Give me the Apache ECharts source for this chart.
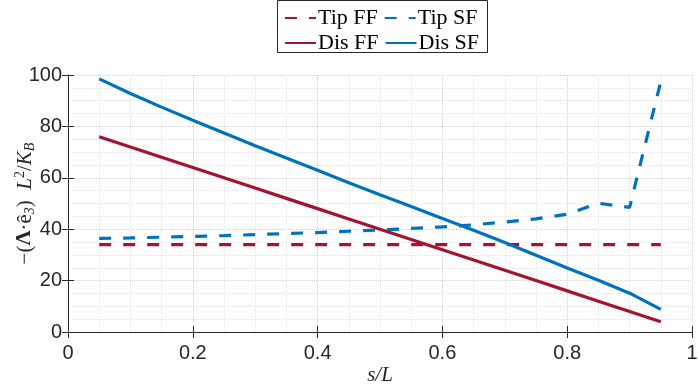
<!DOCTYPE html>
<html>
<head>
<meta charset="utf-8">
<script src="https://cdn.jsdelivr.net/npm/echarts@6/dist/echarts.min.js"></script>
<style>
  html, body { margin: 0; padding: 0; background: #fff; }
  #chart { width: 698px; height: 390px; }
</style>
</head>
<body>
<div id="chart"></div>
<script>
// s/L positions
var sValues = [0.05, 0.1, 0.15, 0.2, 0.25, 0.3, 0.35, 0.4, 0.45, 0.5,
               0.55, 0.6, 0.65, 0.7, 0.75, 0.8, 0.85, 0.9, 0.95];
// series values
var tipFF = [34, 34, 34, 34, 34, 34, 34, 34, 34, 34,
             34, 34, 34, 34, 34, 34, 34, 34, 34];
var tipSF = [36.4, 36.6, 36.9, 37.2, 37.5, 37.9, 38.3, 38.7, 39.2, 39.7,
             40.3, 40.9, 41.7, 42.8, 44.0, 45.8, 50.1, 48.5, 97.5];
var disFF = [76, 72, 68, 64, 60, 56, 52, 48, 44, 40,
             36, 32, 28, 24, 20, 16, 12, 8, 4];
var disSF = [98.5, 92.8, 87.5, 82.4, 77.4, 72.5, 67.7, 62.9, 58.1, 53.4,
             48.8, 44.2, 39.6, 34.8, 29.9, 24.9, 20.1, 15.1, 8.8];
var seriesNames = ["Tip FF", "Tip SF", "Dis FF", "Dis SF"];

var red = "#A2142F";
var blue = "#0072BD";

function pairs(ys) {
  return sValues.map(function (s, i) { return [s, ys[i]]; });
}

function lineSeries(name, ys, color, dashed) {
  return {
    name: name,
    type: "line",
    data: pairs(ys),
    symbol: "none",
    showSymbol: false,
    lineStyle: { color: color, width: 3.2, type: dashed ? [12, 12] : "solid" },
    itemStyle: { color: color },
    z: 5
  };
}

var axisColor = "#262626";
var tickFont = { color: "#262626", fontFamily: "Liberation Sans", fontSize: 20 };

// legend rows, both inside one box
function legendRow(names, top) {
  return {
    data: names,
    left: 279, top: top,
    itemWidth: 31, itemHeight: 14, itemGap: 6,
    itemStyle: { opacity: 0 },
    textStyle: { fontFamily: "Liberation Serif", fontSize: 22, color: "#000", padding: [0, 0, 0, -3] },
    z: 10
  };
}

var chart = echarts.init(document.getElementById("chart"));
chart.setOption({
  animation: false,
  grid: { left: 68, right: 6, top: 75, bottom: 58, outerBoundsMode: "none" },
  graphic: [{
    type: "rect",
    shape: { x: 277.5, y: 0.5, width: 210, height: 52 },
    style: { fill: "#fff", stroke: "#262626", lineWidth: 1 },
    z: 0
  }],
  legend: [legendRow(["Tip FF", "Tip SF"], 2), legendRow(["Dis FF", "Dis SF"], 27)],
  xAxis: [
    {
      type: "value", min: 0, max: 1, interval: 0.2,
      name: "s/L", nameLocation: "middle", nameGap: 33, nameMoveOverlap: false,
      nameTextStyle: { fontFamily: "Liberation Serif", fontStyle: "italic", fontSize: 21, color: "#262626" },
      axisLine: { show: true, lineStyle: { color: axisColor, width: 1 } },
      axisTick: { show: true, inside: true, length: 6, lineStyle: { color: axisColor } },
      axisLabel: Object.assign({ margin: 11, formatter: function (v) { return String(+v.toFixed(1)); } }, tickFont),
      splitLine: { show: true, lineStyle: { color: "#d3d3d3", type: "dotted" } },
      minorTick: { show: false, splitNumber: 4 },
      minorSplitLine: { show: true, lineStyle: { color: "#e4e4e4", type: "dotted" } }
    },
    {
      type: "value", min: 0, max: 1, interval: 0.2, position: "top",
      axisLine: { show: true, lineStyle: { color: axisColor, width: 1 } },
      axisTick: { show: true, inside: true, length: 6, lineStyle: { color: axisColor } },
      axisLabel: { show: false },
      splitLine: { show: false }
    }
  ],
  yAxis: [
    {
      type: "value", min: 0, max: 100, interval: 20,
      name: "{n|−(}{b|Λ}{n|·ê}{sub|3}{n|)  }{i|L}{sup|2}{n|/}{i|K}{sub|B}",
      nameLocation: "middle", nameGap: 31, nameRotate: 90, nameMoveOverlap: false,
      nameTextStyle: {
        color: "#262626",
        rich: {
          n: { fontFamily: "Liberation Serif", fontSize: 21, color: "#262626" },
          b: { fontFamily: "Liberation Serif", fontWeight: "bold", fontSize: 21, color: "#262626" },
          i: { fontFamily: "Liberation Serif", fontStyle: "italic", fontSize: 21, color: "#262626" },
          sub: { fontFamily: "Liberation Serif", fontStyle: "italic", fontSize: 14, color: "#262626", padding: [10, 0, 0, 0] },
          sup: { fontFamily: "Liberation Serif", fontSize: 14, color: "#262626", padding: [0, 0, 10, 0] }
        }
      },
      axisLine: { show: true, lineStyle: { color: axisColor, width: 1 } },
      axisTick: { show: true, inside: true, length: 6, lineStyle: { color: axisColor } },
      axisLabel: Object.assign({ margin: 6 }, tickFont),
      splitLine: { show: true, lineStyle: { color: "#d3d3d3", type: "dotted" } },
      minorTick: { show: false, splitNumber: 4 },
      minorSplitLine: { show: true, lineStyle: { color: "#e4e4e4", type: "dotted" } }
    },
    {
      type: "value", min: 0, max: 100, interval: 20, position: "right",
      axisLine: { show: true, lineStyle: { color: axisColor, width: 1 } },
      axisTick: { show: true, inside: true, length: 6, lineStyle: { color: axisColor } },
      axisLabel: { show: false },
      splitLine: { show: false }
    }
  ],
  series: [
    lineSeries(seriesNames[0], tipFF, red, true),
    lineSeries(seriesNames[1], tipSF, blue, true),
    lineSeries(seriesNames[2], disFF, red, false),
    lineSeries(seriesNames[3], disSF, blue, false)
  ]
});
window.addEventListener("resize", function () { chart.resize(); });
</script>
</body>
</html>
